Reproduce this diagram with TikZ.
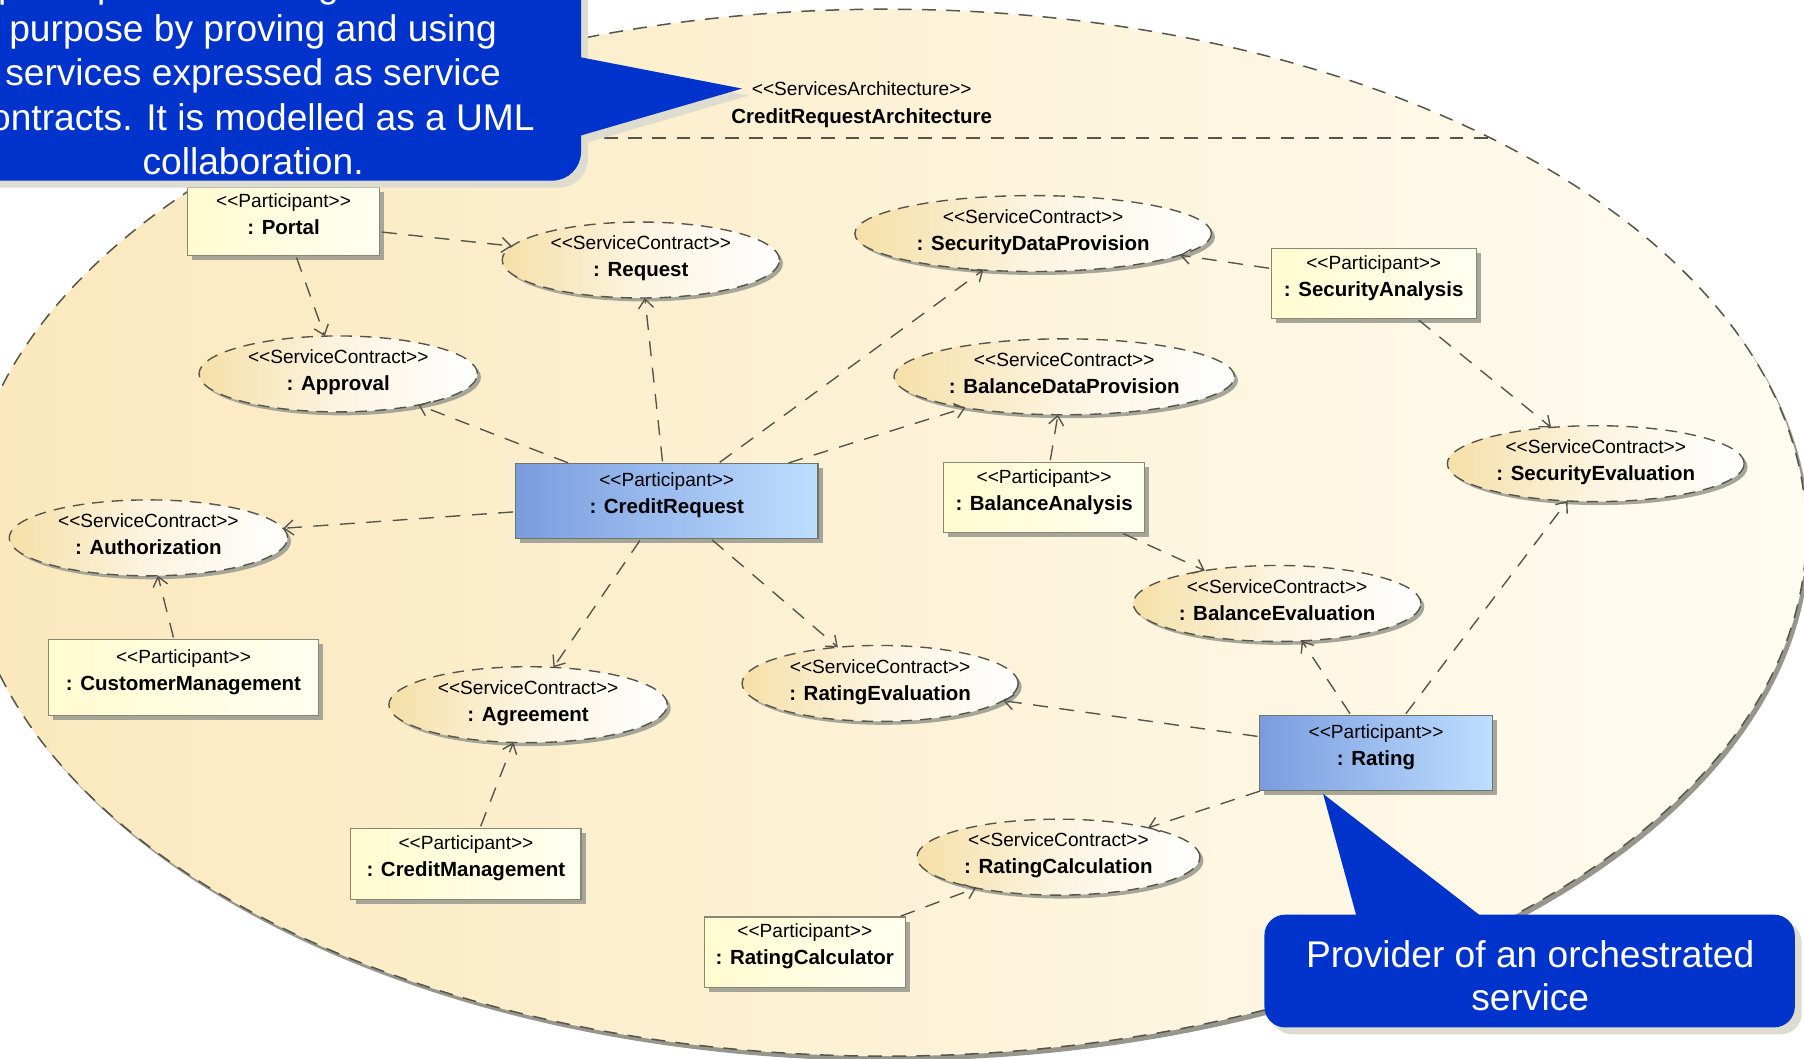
\documentclass[tikz,border=0pt]{standalone}
\usepackage{fontspec}
\newfontfamily\umlfont{Liberation Sans}
\newfontfamily\notefont{Liberation Sans}
\usetikzlibrary{shapes.geometric,arrows.meta,shadows}

\definecolor{callblue}{RGB}{0,51,204}
\definecolor{callshadow}{RGB}{222,220,206}
\definecolor{collL}{RGB}{251,232,188}
\definecolor{collR}{RGB}{255,252,241}
\definecolor{collshadow}{RGB}{150,150,140}
\definecolor{linecol}{RGB}{85,85,75}
\definecolor{pL}{RGB}{255,252,208}
\definecolor{pR}{RGB}{255,255,240}
\definecolor{pborder}{RGB}{135,135,115}
\definecolor{bL}{RGB}{122,156,222}
\definecolor{bR}{RGB}{190,222,255}
\definecolor{cL}{RGB}{246,224,168}
\definecolor{cM}{RGB}{252,244,224}
\definecolor{nodeshadow}{RGB}{165,165,152}

% UML label fonts
\newcommand\ustereo{\umlfont\fontsize{16.6}{20}\selectfont}
\newcommand\uname{\umlfont\bfseries\fontsize{17.8}{20}\selectfont}
% two-line UML label: stereotype and name, placed around the node centre
\newcommand\umltext[4]{%
  \makebox[0pt]{\raisebox{#1}[0pt][0pt]{\ustereo <<#3>>}}%
  \makebox[0pt]{\raisebox{#2}[0pt][0pt]{\uname #4}}}
\newcommand\ptxt[1]{\umltext{12.5pt}{-11pt}{Participant}{: #1}}
\newcommand\ctxt[1]{\umltext{9pt}{-14.5pt}{ServiceContract}{: #1}}
% one line of callout text
\newcommand\noteline[2]{\makebox[0pt]{\raisebox{#1}[0pt][0pt]{#2}}}

\begin{document}
\begin{tikzpicture}[x=1pt,y=-1pt,
  part/.style={rectangle, draw=pborder, line width=1pt, left color=pL, right color=pR,
    inner sep=0pt, outer sep=0pt,
    drop shadow={shadow xshift=4pt, shadow yshift=-4pt, fill=nodeshadow, opacity=1}},
  partblue/.style={part, left color=bL, right color=bR, draw={rgb,255:red,115;green,115;blue,110}},
  contract/.style={ellipse, draw=linecol, line width=1.2pt, dash pattern=on 10pt off 7pt,
    left color=cL, right color=white, middle color=cM, inner sep=0pt, outer sep=0pt,
    minimum height=66pt,
    drop shadow={shadow xshift=3pt, shadow yshift=-3pt, fill=nodeshadow, opacity=1}},
  conn/.style={draw=linecol, line width=1.2pt, dash pattern=on 13pt off 10pt,
    -{Straight Barb[length=8pt,width=13pt,line width=1.2pt]}, shorten <=2pt},
  compline/.style={draw=linecol, line width=1.2pt, dash pattern=on 12pt off 9pt},
  notetext/.style={text=white, font=\notefont\fontsize{32.3}{38}\selectfont, inner sep=0pt}
]
\useasboundingbox (0,0) rectangle (1568,920);
\fill[white] (0,0) rectangle (1568,920);

% ---- the services architecture (collaboration) ----
\fill[collshadow] (773,467) ellipse [x radius=800, y radius=455];
\node[ellipse, minimum width=1600pt, minimum height=910pt, inner sep=0pt,
      left color=collL, right color=collR] (collab) at (770,463) {};
\draw[linecol, line width=1.3pt, dash pattern=on 12pt off 9pt]
      (770,463) ellipse [x radius=800, y radius=455];
\begin{scope}
  \clip (770,463) ellipse [x radius=800, y radius=455];
  \draw[compline] (0,120) -- (1568,120);
\end{scope}
\node[inner sep=0pt] (archhead) at (749,95)
  {\umltext{12pt}{-12.5pt}{ServicesArchitecture}{CreditRequestArchitecture}};

% ---- participants ----
\node[part, minimum width=167pt, minimum height=59pt] (portal) at (246.5,192.5) {\ptxt{Portal}};
\node[part, minimum width=235pt, minimum height=66pt] (custmgmt) at (159.5,589) {\ptxt{CustomerManagement}};
\node[part, minimum width=200pt, minimum height=62pt] (creditmgmt) at (405,751) {\ptxt{CreditManagement}};
\node[part, minimum width=175pt, minimum height=61pt] (ratecalcr) at (699.5,827.5) {\ptxt{RatingCalculator}};
\node[part, minimum width=175pt, minimum height=61pt] (balanal) at (907.5,432.5) {\ptxt{BalanceAnalysis}};
\node[part, minimum width=178pt, minimum height=61pt] (secanal) at (1194,246.5) {\ptxt{SecurityAnalysis}};
\node[partblue, minimum width=263pt, minimum height=65pt] (creditreq) at (579.5,435.5) {\ptxt{CreditRequest}};
\node[partblue, minimum width=202pt, minimum height=65pt] (rating) at (1196,654.5) {\ptxt{Rating}};

% ---- service contracts ----
\node[contract, minimum width=241pt] (request) at (557,226) {\ctxt{Request}};
\node[contract, minimum width=310pt] (secdata) at (898,203) {\ctxt{SecurityDataProvision}};
\node[contract, minimum width=242pt] (approval) at (294,325) {\ctxt{Approval}};
\node[contract, minimum width=296pt] (baldata) at (925,327.5) {\ctxt{BalanceDataProvision}};
\node[contract, minimum width=258pt] (seceval) at (1387,403) {\ctxt{SecurityEvaluation}};
\node[contract, minimum width=242pt] (authz) at (129,467.5) {\ctxt{Authorization}};
\node[contract, minimum width=250pt] (baleval) at (1110,524.5) {\ctxt{BalanceEvaluation}};
\node[contract, minimum width=240pt] (rateeval) at (765,594) {\ctxt{RatingEvaluation}};
\node[contract, minimum width=242pt] (agreement) at (459,612.5) {\ctxt{Agreement}};
\node[contract, minimum width=246pt] (ratecalc) at (920,745) {\ctxt{RatingCalculation}};

% ---- roles played in the contracts ----
\draw[conn] (portal) -- (request);
\draw[conn] (portal) -- (approval);
\draw[conn] (creditreq) -- (approval);
\draw[conn] (creditreq) -- (request);
\draw[conn] (creditreq) -- (secdata);
\draw[conn] (creditreq) -- (baldata);
\draw[conn] (creditreq) -- (authz);
\draw[conn] (creditreq) -- (agreement);
\draw[conn] (creditreq) -- (rateeval);
\draw[conn] (custmgmt) -- (authz);
\draw[conn] (creditmgmt) -- (agreement);
\draw[conn] (ratecalcr) -- (ratecalc);
\draw[conn] (balanal) -- (baldata);
\draw[conn] (balanal) -- (baleval);
\draw[conn] (secanal) -- (secdata);
\draw[conn] (secanal) -- (seceval);
\draw[conn] (rating) -- (baleval);
\draw[conn] (rating) -- (seceval);
\draw[conn] (rating) -- (rateeval);
\draw[conn] (rating) -- (ratecalc);

% ---- callouts ----
\fill[callshadow, rounded corners=25pt] (-34,-34) rectangle (511,163);
\fill[callshadow] (486,51) -- (651,83) -- (486,131) -- cycle;
\fill[callblue, rounded corners=25pt] (-40,-40) rectangle (505,157);
\fill[callblue] (480,45) -- (645,77) -- (480,125) -- cycle;
\node[notetext] (noteA) at (220,151.5) {%
  \noteline{154pt}{participants work together for a}%
  \noteline{115.5pt}{purpose by proving and using}%
  \noteline{77pt}{services expressed as service}%
  \noteline{38.5pt}{contracts. It is modelled as a UML}%
  \noteline{0pt}{collaboration.}};

\fill[callshadow, rounded corners=18pt] (1105,801) rectangle (1566,899);
\fill[callshadow] (1156,696) -- (1186,806) -- (1298,806) -- cycle;
\fill[callblue, rounded corners=18pt] (1099,795) rectangle (1560,893);
\fill[callblue] (1150,690) -- (1180,800) -- (1292,800) -- cycle;
\node[notetext] (noteB) at (1330,878) {%
  \noteline{37.5pt}{Provider of an orchestrated}%
  \noteline{0pt}{service}};
\end{tikzpicture}
\end{document}
